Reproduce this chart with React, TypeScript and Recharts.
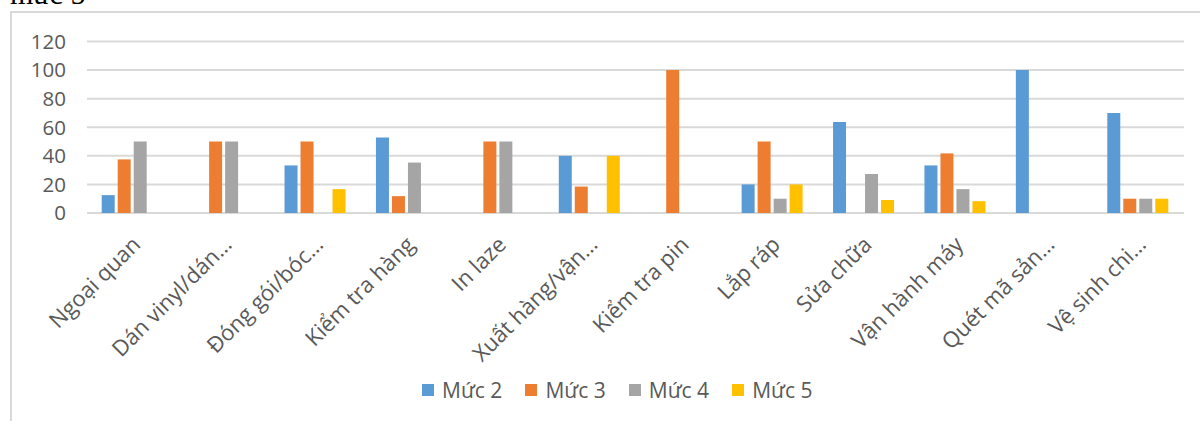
import React from 'react';
import { BarChart, Bar, XAxis, YAxis, CartesianGrid, Legend } from 'recharts';

const categories = [
  'Ngoại quan',
  'Dán vinyl/dán…',
  'Đóng gói/bóc…',
  'Kiểm tra hàng',
  'In laze',
  'Xuất hàng/vận…',
  'Kiểm tra pin',
  'Lắp ráp',
  'Sửa chữa',
  'Vận hành máy',
  'Quét mã sản…',
  'Vệ sinh chi…',
];
const muc2 = [12.5, 0, 33.3, 52.9, 0, 40, 0, 20, 63.6, 33.3, 100, 70];
const muc3 = [37.5, 50, 50, 11.8, 50, 18.5, 100, 50, 0, 41.7, 0, 10];
const muc4 = [50, 50, 0, 35.3, 50, 0, 0, 10, 27.3, 16.7, 0, 10];
const muc5 = [0, 0, 16.7, 0, 0, 40, 0, 20, 9.1, 8.3, 0, 10];
const yTicks = [0, 20, 40, 60, 80, 100, 120];
const seriesNames = ['Mức 2', 'Mức 3', 'Mức 4', 'Mức 5'];
const seriesKeys = ['m2', 'm3', 'm4', 'm5'];
const colors = ['#5B9BD5', '#ED7D31', '#A5A5A5', '#FFC000'];

const data = categories.map((name, i) => ({
  name,
  m2: muc2[i],
  m3: muc3[i],
  m4: muc4[i],
  m5: muc5[i],
}));

const FONT = '"Open Sans", sans-serif';
const TEXT = '#595959';

const CatTick = (props: any) => {
  const { x, y, payload } = props;
  const ax = x + 9;
  const ay = y + 33;
  return (
    <text
      x={ax}
      y={ay}
      textAnchor="end"
      fill={TEXT}
      fontSize={22}
      fontFamily={FONT}
      transform={`rotate(-45, ${ax}, ${ay})`}
    >
      {payload.value}
    </text>
  );
};

const LegendContent = () => (
  <div style={{ position: 'relative', height: 30, width: 1200 }}>
    {seriesNames.map((n, i) => (
      <div
        key={n}
        style={{
          position: 'absolute',
          left: 422 + i * 103.4,
          top: 0,
          height: 30,
          display: 'flex',
          alignItems: 'center',
          whiteSpace: 'nowrap',
        }}
      >
        <span style={{ display: 'inline-block', width: 12, height: 12, background: colors[i], marginRight: 8 }} />
        <span style={{ color: TEXT, fontSize: 21, fontFamily: FONT }}>{n}</span>
      </div>
    ))}
  </div>
);

export default function App() {
  return (
    <div style={{ position: 'absolute', left: 0, top: 0, width: 1200, height: 421, overflow: 'hidden', background: '#fff' }}>
      <div
        style={{
          position: 'absolute',
          left: 10,
          top: -21,
          fontFamily: '"Liberation Serif", "Times New Roman", serif',
          fontSize: 30,
          lineHeight: '30px',
          color: '#000',
          whiteSpace: 'nowrap',
        }}
      >
        mức 5
      </div>
      <div
        style={{
          position: 'absolute',
          left: 10,
          top: 11,
          width: 1300,
          height: 500,
          borderLeft: '2px solid #D9D9D9',
          borderTop: '2px solid #D9D9D9',
        }}
      />
      <div style={{ position: 'absolute', left: 0, top: 0 }}>
        <BarChart
          width={1200}
          height={421}
          data={data}
          margin={{ top: 41.5, right: 16, left: 27, bottom: 0 }}
          barCategoryGap={14.7}
          barGap={3}
        >
          <CartesianGrid vertical={false} stroke="#D9D9D9" strokeWidth={2} />
          <XAxis
            dataKey="name"
            axisLine={false}
            tickLine={false}
            tickSize={0}
            tickMargin={0}
            interval={0}
            height={178}
            tick={<CatTick />}
          />
          <YAxis
            type="number"
            domain={[0, 120]}
            ticks={yTicks}
            axisLine={false}
            tickLine={false}
            tickMargin={15}
            width={60}
            tick={{ fill: TEXT, fontSize: 20.5, fontFamily: FONT }}
          />
          <Legend
            verticalAlign="bottom"
            height={30}
            content={<LegendContent />}
            wrapperStyle={{ left: 0, top: 375, width: 1200, height: 30 }}
          />
          {seriesKeys.map((k, i) => (
            <Bar key={k} dataKey={k} name={seriesNames[i]} fill={colors[i]} isAnimationActive={false} />
          ))}
        </BarChart>
      </div>
    </div>
  );
}
